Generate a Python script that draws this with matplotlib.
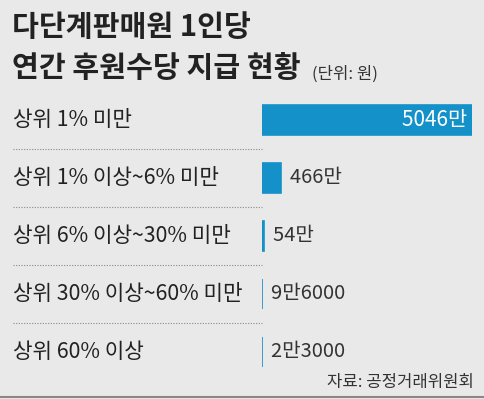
import matplotlib
matplotlib.use('Agg')
import matplotlib.pyplot as plt
import matplotlib.transforms as mtransforms

plt.rcParams['font.family'] = ['Noto Sans CJK KR', 'DejaVu Sans']

# Data (unit: 만원)
categories = ['상위 1% 미만', '상위 1% 이상~6% 미만', '상위 6% 이상~30% 미만',
              '상위 30% 이상~60% 미만', '상위 60% 이상']
values = [5046, 466, 54, 9.6, 2.3]
value_labels = ['5046만', '466만', '54만', '9만6000', '2만3000']

title_lines = ['다단계판매원 1인당', '연간 후원수당 지급 현황']
unit_text = '(단위: 원)'
source_text = '자료: 공정거래위원회'

W, H = 484, 399
bg = '#e9e9e9'
bar_color = '#1591c9'
text_color = '#222222'

fig = plt.figure(figsize=(W / 100, H / 100), dpi=100)
fig.patch.set_facecolor(bg)

# Bar axes in pixel layout: x 262..472, rows centred 120..352
ax = fig.add_axes([262 / W, 1 - 381 / H, 210 / W, 290 / H])
ax.set_facecolor('none')
ax.barh(range(len(values)), values, height=0.52, color=bar_color,
        edgecolor=bar_color, linewidth=1.2)
ax.set_xlim(0, max(values))
ax.set_ylim(len(values) - 0.5, -0.5)
ax.axis('off')

trans = mtransforms.blended_transform_factory(fig.transFigure, ax.transData)

for i, (cat, v, lab) in enumerate(zip(categories, values, value_labels)):
    ax.text(13 / W, i, cat, transform=trans, fontsize=15.3, color=text_color,
            va='center', ha='left', clip_on=False)
    if i == 0:
        ax.text(v, i, lab + ' ', color='white', fontsize=15, va='center',
                ha='right')
    else:
        ax.text(v, i, '  ' + lab, color='#333333', fontsize=14.5,
                va='center', ha='left')
    if i < len(values) - 1:
        # dotted separator between rows
        ax.plot([13 / W, 262 / W], [i + 0.5, i + 0.5], transform=trans,
                color='#8a8a8a', linestyle=(0, (1, 1.4)), linewidth=0.8,
                clip_on=False)

fig.text(12 / W, 1 - 27 / H, title_lines[0], fontsize=21, fontweight='bold',
         color=text_color, va='center', ha='left')
fig.text(12 / W, 1 - 68 / H, title_lines[1], fontsize=21, fontweight='bold',
         color=text_color, va='center', ha='left')
fig.text(312 / W, 1 - 74 / H, unit_text, fontsize=12, color='#333333',
         va='center', ha='left')
fig.text(474 / W, 1 - 383 / H, source_text, fontsize=12, color='#333333',
         va='center', ha='right')

fig.add_artist(plt.Line2D([0, 1], [2 / H, 2 / H], color='#888888', linewidth=1.5))

fig.savefig('out.png', dpi=100, facecolor=fig.get_facecolor())
